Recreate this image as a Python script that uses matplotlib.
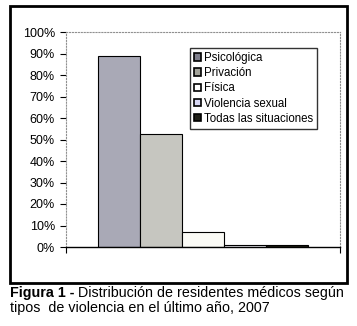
import matplotlib.pyplot as plt
from matplotlib.patches import Rectangle, Patch

plt.rcParams['font.family'] = ['Liberation Sans', 'DejaVu Sans']

# percentage of residents by type of violence
tipos = ['Psicológica', 'Privación', 'Física', 'Violencia sexual', 'Todas las situaciones']
porcentajes = [89, 52.5, 7, 1, 1]
colores = ['#a9a9b6', '#c6c6c0', '#fbfbf6', '#f4f4fb', '#1c1c12']
marcadores = ['#7f7f8c', '#a3a39a', '#ffffff', '#d8d8f4', '#202018']
yticks = [0, 10, 20, 30, 40, 50, 60, 70, 80, 90, 100]

fig = plt.figure(figsize=(3.57, 3.26), dpi=100)
fig.patches.append(Rectangle((10 / 357, 43 / 326), 337 / 357, 277 / 326,
                             transform=fig.transFigure, fill=False,
                             edgecolor='black', linewidth=2))

ax = fig.add_axes([66 / 357, 79 / 326, 274 / 357, 215 / 326])
pos = [i - 2 for i in range(len(tipos))]
bars = ax.bar(pos, porcentajes, width=1.0, color=colores,
              edgecolor='black', linewidth=0.8)

ax.set_xlim(-3.25, 3.25)
ax.set_ylim(0, 100)
ax.set_yticks(yticks)
ax.set_yticklabels([f'{v}%' for v in yticks], fontsize=9)
ax.set_xticks([-3.25, 3.25])
ax.set_xticklabels(['', ''])
ax.tick_params(direction='out', length=4, width=0.8, pad=4)

for s in ['top', 'right', 'left']:
    ax.spines[s].set_color('#909090')
    ax.spines[s].set_linestyle(':')
    ax.spines[s].set_linewidth(0.8)
ax.spines['bottom'].set_linewidth(1.0)

handles = [Patch(facecolor=c, edgecolor='black', linewidth=1.2) for c in marcadores]
leg = ax.legend(handles, tipos, loc='upper left', bbox_to_anchor=(0.453, 0.926),
                borderaxespad=0, fontsize=8.3, frameon=True, fancybox=False,
                handlelength=0.6, handleheight=0.6, handletextpad=0.25,
                labelspacing=0.28, borderpad=0.35)
leg.get_frame().set_edgecolor('black')
leg.get_frame().set_linewidth(1.0)

# caption
t1 = fig.text(10 / 357, 1 - 293 / 326, 'Figura 1 -', fontsize=10.3,
              fontweight='bold', va='center', ha='left')
fig.canvas.draw()
bb = t1.get_window_extent()
x2 = (bb.x1 + 4) / fig.bbox.width
fig.text(x2, 1 - 293 / 326, 'Distribución de residentes médicos según',
         fontsize=10.3, va='center', ha='left')
fig.text(10 / 357, 1 - 308 / 326, 'tipos  de violencia en el último año, 2007',
         fontsize=10.3, va='center', ha='left')

fig.savefig('out.png', dpi=100)
